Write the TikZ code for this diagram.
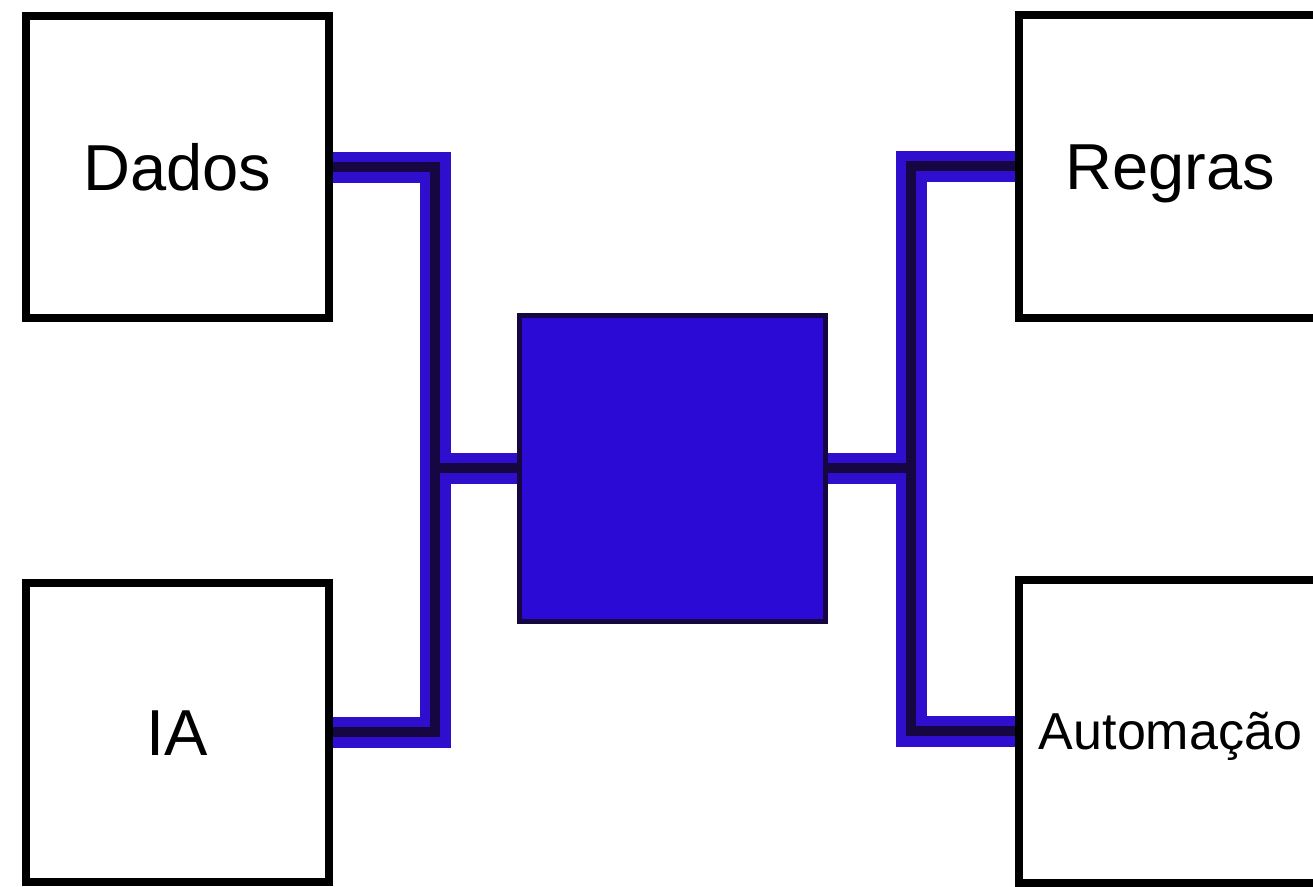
\documentclass[tikz,border=0pt]{standalone}
\usepackage{fontspec}
\setmainfont{Liberation Sans}
\definecolor{linkblue}{RGB}{48,14,205}
\definecolor{linkdark}{RGB}{22,6,66}
\definecolor{hubfill}{RGB}{42,10,212}
\pgfdeclarelayer{background}
\pgfsetlayers{background,main}
\begin{document}
\begin{tikzpicture}[x=1pt,y=-1pt,
  box/.style={draw=black,line width=8pt,fill=white,rectangle,minimum width=303pt,minimum height=302pt,inner sep=0pt,
    font=\fontsize{65}{70}\selectfont,text height=47pt,text depth=0pt},
  smalltext/.style={font=\fontsize{52}{58}\selectfont,text height=37pt,text depth=0pt},
  hub/.style={draw=linkdark,line width=5pt,fill=hubfill,rectangle,minimum width=306pt,minimum height=306pt,inner sep=0pt},
  conn/.style={draw=linkdark,line width=10pt,line join=miter,preaction={draw=linkblue,line width=31pt}}]
\useasboundingbox (0,0) rectangle (1313,886);
% nodes
\coordinate (jl) at (435,468);
\coordinate (jr) at (911,468);
\node[hub] (hub) at (672.5,468) {};
\node[box,minimum height=302pt] (dados) at (177.5,167) {Dados};
\node[box,minimum height=299pt] (ia) at (177.5,732) {IA};
\node[box,minimum height=303pt] (regras) at (1170.5,166) {Regras};
\node[box,minimum height=303pt,smalltext] (auto) at (1170.5,731) {Automação};
% connectors (behind the boxes)
\begin{pgfonlayer}{background}
\fill[white] (0,0) rectangle (1313,886);
\path[conn] (dados.east) -| (jl) |- (ia.east) (jl) -- (hub.west);
\path[conn] (regras.west) -| (jr) |- (auto.west) (jr) -- (hub.east);
\end{pgfonlayer}
\end{tikzpicture}
\end{document}
